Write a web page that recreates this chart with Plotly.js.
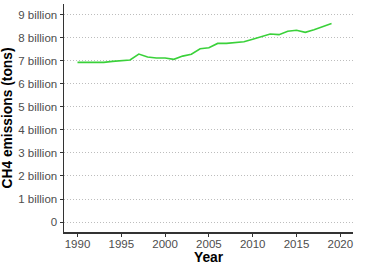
<!DOCTYPE html>
<html>
<head>
<meta charset="utf-8">
<script src="https://cdn.plot.ly/plotly-3.0.1.min.js"></script>
<style>html,body{margin:0;padding:0;background:#fff;}#chart{width:375px;height:268px;}</style>
</head>
<body>
<div id="chart"></div>
<script>
const years = [1990,1991,1992,1993,1994,1995,1996,1997,1998,1999,2000,2001,2002,2003,2004,2005,2006,2007,2008,2009,2010,2011,2012,2013,2014,2015,2016,2017,2018,2019];
const emissionsBillions = [6.93,6.93,6.92,6.93,6.97,7.01,7.03,7.29,7.16,7.12,7.12,7.06,7.20,7.28,7.52,7.56,7.75,7.75,7.80,7.82,7.93,8.06,8.16,8.13,8.28,8.32,8.23,8.34,8.49,8.61];
const yTickVals = [0,1e9,2e9,3e9,4e9,5e9,6e9,7e9,8e9,9e9];
const yTickText = ["0","1 billion","2 billion","3 billion","4 billion","5 billion","6 billion","7 billion","8 billion","9 billion"];
const xTickVals = [1990,1995,2000,2005,2010,2015,2020];
const xTitle = 'Year';
const yTitle = 'CH4 emissions (tons)';

const emissions = emissionsBillions.map(v => v * 1e9);

const trace = {
  x: years, y: emissions, type: 'scatter', mode: 'lines',
  line: {color: '#3ad13a', width: 1.6},
  hoverinfo: 'skip'
};
const titleFont = {size: 13.8, color: '#000', family: 'Liberation Sans, Arial, sans-serif', weight: 'bold'};
const layout = {
  width: 375, height: 268,
  margin: {l: 64, r: 22, t: 4, b: 36},
  paper_bgcolor: '#fff', plot_bgcolor: '#fff',
  font: {family: 'Liberation Sans, Arial, sans-serif', color: '#4d4d4d', size: 11.5},
  showlegend: false,
  xaxis: {
    range: [1988.46, 2021.45], tickvals: xTickVals, ticktext: xTickVals.map(String),
    showgrid: false, zeroline: false,
    showline: true, linecolor: '#333', linewidth: 1.5,
    ticks: 'outside', ticklen: 3, tickcolor: '#333', tickwidth: 1,
    ticklabelstandoff: -2,
    tickfont: {size: 11.5, color: '#4d4d4d'}
  },
  yaxis: {
    range: [-0.43e9, 9.46e9], tickvals: yTickVals, ticktext: yTickText,
    showgrid: true, gridcolor: '#bdbdbd', griddash: '1px,2px', gridwidth: 1,
    zeroline: false,
    showline: true, linecolor: '#333', linewidth: 1.5,
    ticks: 'outside', ticklen: 3, tickcolor: '#333', tickwidth: 1,
    tickfont: {size: 11.5, color: '#4d4d4d'},
    title: {text: yTitle, font: titleFont, standoff: 5}
  },
  annotations: [{
    text: xTitle, xref: 'paper', yref: 'paper', x: 0.5, y: -0.112,
    xanchor: 'center', yanchor: 'middle', showarrow: false, font: titleFont
  }]
};
Plotly.newPlot('chart', [trace], layout, {displayModeBar: false, staticPlot: true});
</script>
</body>
</html>
